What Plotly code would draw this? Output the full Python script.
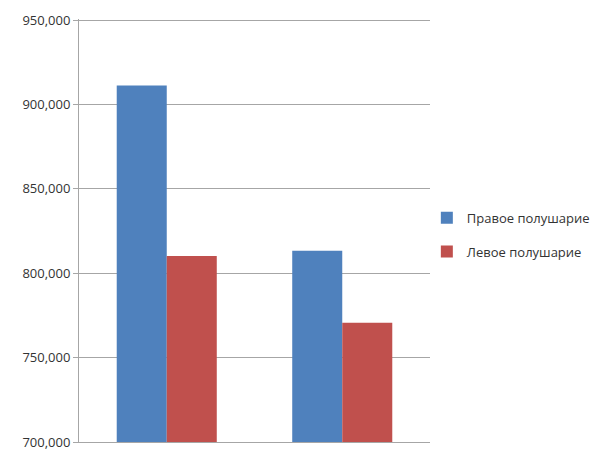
import plotly.graph_objects as go

categories = ["1", "2"]
series_names = ["Правое полушарие", "Левое полушарие"]
right_values = [911200, 813300]
left_values = [810200, 770600]
colors = ["#4F81BD", "#C0504D"]
y_ticks = [700000, 750000, 800000, 850000, 900000, 950000]

fig = go.Figure()
for name, vals, col in zip(series_names, [right_values, left_values], colors):
    fig.add_trace(go.Bar(x=categories, y=vals, name=name, marker_color=col,
                         marker_line_width=0, legendgroup=name))

font = "Open Sans, Liberation Sans, sans-serif"
fig.update_layout(
    width=596, height=450,
    margin=dict(l=79, r=166, t=19, b=8, autoexpand=False),
    paper_bgcolor="white", plot_bgcolor="white",
    barmode="group", bargap=0.43, bargroupgap=0,
    font=dict(family=font, size=13, color="#333333"),
    legend=dict(x=0.991, xanchor="left", y=0.49, yanchor="middle",
                font=dict(size=13, color="#333333"),
                traceorder="grouped", tracegroupgap=14, itemwidth=30),
    showlegend=True,
)
fig.update_xaxes(showticklabels=False, showgrid=False, showline=True,
                 linecolor="#A6A6A6", linewidth=1, ticks="")
fig.update_yaxes(range=[700000, 950600], tickvals=y_ticks, tickformat=",.0f",
                 showgrid=True, gridcolor="#A6A6A6", gridwidth=1,
                 showline=True, linecolor="#A6A6A6", linewidth=1,
                 ticks="outside", ticklen=5, tickcolor="#A6A6A6",
                 zeroline=False, ticklabeloverflow="allow",
                 tickfont=dict(size=13, color="#333333"))

fig.write_html("out.html")
